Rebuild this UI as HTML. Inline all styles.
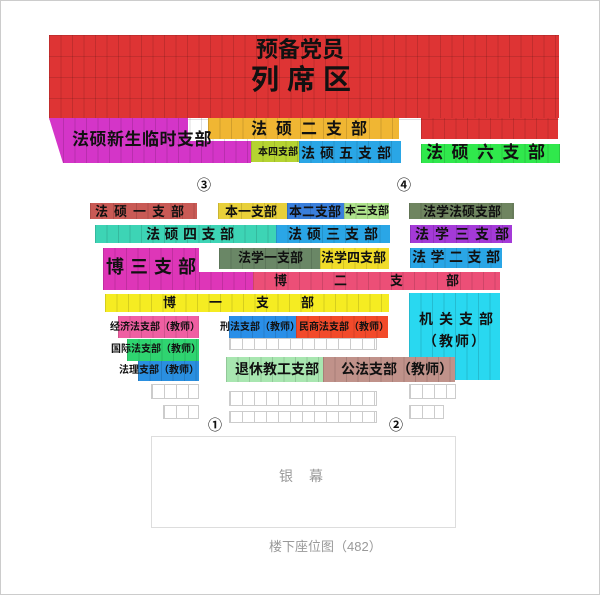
<!DOCTYPE html>
<html><head><meta charset="utf-8"><style>
*{margin:0;padding:0;box-sizing:border-box}
body{width:600px;height:595px;background:#fff;position:relative;overflow:hidden;font-family:"Liberation Sans","Noto Sans CJK SC",sans-serif;border:1px solid #ccc}
.b{position:absolute;background-image:repeating-linear-gradient(90deg,rgba(0,0,0,.13) 0 1px,transparent 1px 11.5px);}
.r{position:absolute;background-image:repeating-linear-gradient(180deg,rgba(0,0,0,.12) 0 1px,transparent 1px 21px);}
.t{position:absolute;font-weight:bold;color:#111;white-space:nowrap;line-height:1}
.s{position:absolute;border:1px solid #ccc;background-image:repeating-linear-gradient(90deg,#ccc 0 1px,transparent 1px 12px)}
</style></head><body>
<div class="b" style="left:48px;top:34px;width:510px;height:83px;background-color:#de3434"></div>
<div class="b" style="left:420px;top:117px;width:137px;height:21px;background-color:#de3434"></div>
<div class="r" style="left:48px;top:34px;width:510px;height:104px"></div>
<svg style="position:absolute;left:0;top:0" width="600" height="200"><polygon points="48,117 187,117 187,140 250,140 250,162 62,162" fill="#d435c8"/></svg>
<div class="b" style="left:62px;top:117px;width:188px;height:45px"></div>
<div class="b" style="left:207px;top:117px;width:191px;height:21px;background-color:#f0b633"></div>
<div class="b" style="left:250px;top:140px;width:48px;height:21px;background-color:#b5d331"></div>
<div class="b" style="left:298px;top:140px;width:102px;height:22px;background-color:#2aa6e6"></div>
<div class="b" style="left:420px;top:143px;width:139px;height:19px;background-color:#30e84c"></div>
<div class="t" style="left:255px;top:38px;font-size:22px">预备党员</div>
<div class="t" style="left:250px;top:65px;font-size:28px;letter-spacing:8px">列席区</div>
<div class="t" style="left:71px;top:130px;font-size:17px;letter-spacing:0.5px">法硕新生临时支部</div>
<div class="t" style="left:250px;top:121px;font-size:16px;letter-spacing:9px">法硕二支部</div>
<div class="t" style="left:257px;top:147px;font-size:10px">本四支部</div>
<div class="t" style="left:300px;top:145px;font-size:14px;letter-spacing:5px">法硕五支部</div>
<div class="t" style="left:425px;top:143px;font-size:17px;letter-spacing:8.5px">法硕六支部</div>
<div class="t" style="left:196px;top:177px;font-size:14px">③</div>
<div class="t" style="left:396px;top:177px;font-size:14px">④</div>
<div class="b" style="left:89px;top:202px;width:107px;height:16px;background-color:#c95a55"></div>
<div class="b" style="left:217px;top:202px;width:69px;height:16px;background-color:#e8d03a"></div>
<div class="b" style="left:286px;top:202px;width:57px;height:16px;background-color:#3a7fdc"></div>
<div class="b" style="left:343px;top:202px;width:45px;height:16px;background-color:#aee38c"></div>
<div class="b" style="left:408px;top:202px;width:105px;height:16px;background-color:#6f8560"></div>
<div class="t" style="left:94px;top:204px;font-size:13px;letter-spacing:6px">法硕一支部</div>
<div class="t" style="left:224px;top:204px;font-size:13px">本一支部</div>
<div class="t" style="left:288px;top:204px;font-size:13px">本二支部</div>
<div class="t" style="left:344px;top:205px;font-size:11px">本三支部</div>
<div class="t" style="left:422px;top:204px;font-size:13px">法学法硕支部</div>
<div class="b" style="left:94px;top:224px;width:181px;height:18px;background-color:#3dd4b5"></div>
<div class="b" style="left:275px;top:224px;width:114px;height:18px;background-color:#2aa6e6"></div>
<div class="b" style="left:409px;top:224px;width:102px;height:18px;background-color:#a43ad8"></div>
<div class="t" style="left:145px;top:226px;font-size:14px;letter-spacing:4.5px">法硕四支部</div>
<div class="t" style="left:287px;top:226px;font-size:14px;letter-spacing:5px">法硕三支部</div>
<div class="t" style="left:414px;top:226px;font-size:14px;letter-spacing:6px">法学三支部</div>
<div class="b" style="left:102px;top:247px;width:96px;height:42px;background-color:#de36b8"></div>
<div class="b" style="left:198px;top:271px;width:54px;height:18px;background-color:#de36b8"></div>
<div class="b" style="left:218px;top:247px;width:101px;height:21px;background-color:#6a8766"></div>
<div class="b" style="left:319px;top:247px;width:69px;height:21px;background-color:#f0dc2a"></div>
<div class="b" style="left:409px;top:247px;width:92px;height:20px;background-color:#2aa6e6"></div>
<div class="b" style="left:252px;top:271px;width:247px;height:18px;background-color:#ec4f77"></div>
<div class="t" style="left:105px;top:257px;font-size:18px;letter-spacing:6px">博三支部</div>
<div class="t" style="left:237px;top:250px;font-size:13px">法学一支部</div>
<div class="t" style="left:320px;top:250px;font-size:13px">法学四支部</div>
<div class="t" style="left:411px;top:249px;font-size:14px;letter-spacing:4.5px">法学二支部</div>
<div class="t" style="left:273px;top:273px;font-size:13px">博</div>
<div class="t" style="left:333px;top:273px;font-size:13px">二</div>
<div class="t" style="left:389px;top:273px;font-size:13px">支</div>
<div class="t" style="left:445px;top:273px;font-size:13px">部</div>
<div class="b" style="left:104px;top:293px;width:284px;height:18px;background-color:#f5ec22"></div>
<div class="b" style="left:408px;top:292px;width:91px;height:87px;background-color:#29d8f0"></div>
<div class="t" style="left:162px;top:295px;font-size:13px">博</div>
<div class="t" style="left:208px;top:295px;font-size:13px">一</div>
<div class="t" style="left:255px;top:295px;font-size:13px">支</div>
<div class="t" style="left:300px;top:295px;font-size:13px">部</div>
<div class="t" style="left:418px;top:311px;font-size:14px;letter-spacing:6px">机关支部</div>
<div class="t" style="left:422px;top:333px;font-size:14px;letter-spacing:2px">（教师）</div>
<div class="b" style="left:117px;top:315px;width:81px;height:22px;background-color:#ef5fa2"></div>
<div class="b" style="left:228px;top:315px;width:67px;height:22px;background-color:#2a8fe8"></div>
<div class="b" style="left:295px;top:315px;width:92px;height:22px;background-color:#f24a2a"></div>
<div class="t" style="left:109px;top:322px;font-size:10px">经济法支部（教师）</div>
<div class="t" style="left:219px;top:322px;font-size:10px">刑法支部（教师）</div>
<div class="t" style="left:298px;top:322px;font-size:10px">民商法支部（教师）</div>
<div class="s" style="left:228px;top:337px;width:148px;height:12px"></div>
<div class="b" style="left:126px;top:338px;width:72px;height:22px;background-color:#2fd470"></div>
<div class="t" style="left:110px;top:344px;font-size:10px">国际法支部（教师）</div>
<div class="b" style="left:137px;top:360px;width:61px;height:20px;background-color:#2a8fe0"></div>
<div class="t" style="left:118px;top:365px;font-size:10px">法理支部（教师）</div>
<div class="b" style="left:225px;top:356px;width:97px;height:25px;background-color:#a8e6b0"></div>
<div class="b" style="left:322px;top:356px;width:132px;height:25px;background-color:#c0928a"></div>
<div class="t" style="left:234px;top:361px;font-size:14px">退休教工支部</div>
<div class="t" style="left:340px;top:361px;font-size:14px">公法支部（教师）</div>
<div class="s" style="left:150px;top:383px;width:48px;height:15px"></div>
<div class="s" style="left:408px;top:383px;width:47px;height:15px"></div>
<div class="s" style="left:228px;top:390px;width:148px;height:15px"></div>
<div class="s" style="left:162px;top:404px;width:36px;height:14px"></div>
<div class="s" style="left:408px;top:404px;width:35px;height:14px"></div>
<div class="s" style="left:228px;top:410px;width:148px;height:12px"></div>
<div class="t" style="left:207px;top:417px;font-size:14px">①</div>
<div class="t" style="left:388px;top:417px;font-size:14px">②</div>
<div style="position:absolute;left:150px;top:435px;width:305px;height:92px;border:1.5px solid #ddd"></div>
<div style="position:absolute;left:278px;top:465px;font-size:14px;color:#999;letter-spacing:16px">银幕</div>
<div style="position:absolute;left:268px;top:535px;font-size:13px;color:#999">楼下座位图（482）</div>
</body></html>
